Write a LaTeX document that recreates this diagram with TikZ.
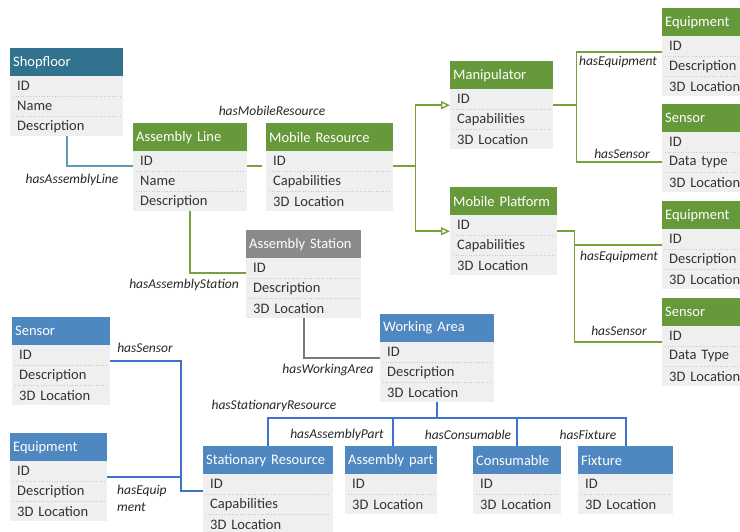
\documentclass[tikz,border=0pt]{standalone}
\usepackage{fontspec}
\setmainfont{Carlito}
\usetikzlibrary{arrows.meta,calc}

\definecolor{hdrteal}{HTML}{31728F}
\definecolor{hdrgreen}{HTML}{65993A}
\definecolor{hdrgray}{HTML}{8A8A8A}
\definecolor{hdrblue}{HTML}{4F87C0}
\definecolor{bodyfill}{HTML}{EFEFEF}
\definecolor{bodytext}{HTML}{333333}
\definecolor{lnteal}{HTML}{5A9BB5}
\definecolor{lngreen}{HTML}{77A13B}
\definecolor{lngray}{HTML}{7A7A7A}
\definecolor{lnblue}{HTML}{3F72CF}

\tikzset{
  hdrbox/.style={rectangle, minimum height=28pt, inner xsep=3pt, inner ysep=0pt,
    align=left, text=white, font=\fontsize{14.5}{17}\selectfont},
  rowbox/.style={rectangle, minimum height=20pt, inner xsep=7pt, inner ysep=0pt,
    fill=bodyfill, align=left, text=bodytext, font=\fontsize{14.5}{17}\selectfont},
  sepline/.style={draw=black!22, dotted, line width=0.6pt},
  lbl/.style={inner sep=0pt, text=black!85, font=\fontsize{13.5}{17}\selectfont\itshape},
  relteal/.style={draw=lnteal, line width=1.7pt},
  relgreen/.style={draw=lngreen, line width=1.7pt},
  relgray/.style={draw=lngray, line width=1.7pt},
  relblue/.style={draw=lnblue, line width=1.7pt},
  isa/.style={relgreen, -{Triangle[open, length=9pt, width=8pt, line width=1.4pt]}},
}

% #1 name, #2 x, #3 top y, #4 width, #5 header colour, #6 title, #7 attribute rows
\newcommand\entity[7]{%
  \pgfmathsetmacro\hdrw{#4-6}%
  \pgfmathsetmacro\roww{#4-14}%
  \node[hdrbox, fill=#5, text width=\hdrw pt, anchor=north west] (#1-h) at (#2,#3) {\mbox{#6}};
  \foreach \r [count=\i] in {#7} {
    \node[rowbox, text width=\roww pt, anchor=north west] (#1-\i) at ({#2},{#3+8+20*\i}) {\r};
    \ifnum\i>1
      \draw[sepline] ([xshift=3pt]#1-\i.north west) -- ([xshift=-3pt]#1-\i.north east);
    \fi
  }
}

\begin{document}
\begin{tikzpicture}[x=1pt, y=-1pt]
\clip (0,0) rectangle (740,531);

% ---- entities ----
\entity{shop}{10}{48}{113}{hdrteal}{Shopfloor}{ID,Name,Description}
\entity{aline}{133}{123}{114}{hdrgreen}{Assembly Line}{ID,Name,Description}
\entity{mres}{266}{123}{127}{hdrgreen}{Mobile Resource}{ID,Capabilities,3D Location}
\entity{manip}{450}{61}{103}{hdrgreen}{Manipulator}{ID,Capabilities,3D Location}
\entity{mplat}{450}{187}{107}{hdrgreen}{Mobile Platform}{ID,Capabilities,3D Location}
\entity{equipA}{662}{8}{100}{hdrgreen}{Equipment}{ID,Description,3D Location}
\entity{sensA}{662}{104}{100}{hdrgreen}{Sensor}{ID,Data type,3D Location}
\entity{equipB}{662}{201}{100}{hdrgreen}{Equipment}{ID,Description,3D Location}
\entity{sensB}{662}{298}{100}{hdrgreen}{Sensor}{ID,Data Type,3D Location}
\entity{astat}{246}{230}{115}{hdrgray}{Assembly Station}{ID,Description,3D Location}
\entity{warea}{380}{314}{114}{hdrblue}{Working Area}{ID,Description,3D Location}
\entity{sensL}{12}{317}{98}{hdrblue}{Sensor}{ID,Description,3D Location}
\entity{equipL}{10}{433}{97}{hdrblue}{Equipment}{ID,Description,3D Location}
\entity{sres}{203}{446}{130}{hdrblue}{Stationary Resource}{ID,Capabilities,3D Location}
\entity{apart}{345}{446}{92}{hdrblue}{Assembly part}{ID,3D Location}
\entity{cons}{473}{446}{88}{hdrblue}{Consumable}{ID,3D Location}
\entity{fix}{578}{446}{95}{hdrblue}{Fixture}{ID,3D Location}

% ---- attachment points on the attribute rows ----
\coordinate (alOut)  at ([yshift=-5pt]aline-1.east);
\coordinate (alIn)   at ([yshift=-5pt]aline-1.west);
\coordinate (mrIn)   at ([xshift=-4pt,yshift=-5pt]mres-1.west);
\coordinate (mrOut)  at ([yshift=-5pt]mres-1.east);
\coordinate (mnIn)   at ([yshift=-6pt]manip-1.west);
\coordinate (mnOut)  at ([yshift=-6pt]manip-1.east);
\coordinate (mpIn)   at ([yshift=-6pt]mplat-1.west);
\coordinate (mpOut)  at ([yshift=-6pt]mplat-1.east);
\coordinate (eqAIn)  at ([yshift=-6pt]equipA-1.west);
\coordinate (snAIn)  at (sensA-2.west);
\coordinate (eqBIn)  at ([yshift=-6pt]equipB-1.west);
\coordinate (snBIn)  at ([yshift=-6pt]sensB-1.west);
\coordinate (asIn)   at ([yshift=-5pt]astat-1.west);
\coordinate (waIn)   at ([yshift=-6pt]warea-1.west);
\coordinate (srIn)   at ([yshift=-7pt]sres-1.west);
\coordinate (snLOut) at ([yshift=-6pt]sensL-1.east);
\coordinate (eqLOut) at ([yshift=-6pt]equipL-1.east);

% ---- relations ----
% shopfloor -> assembly line
\draw[relteal] (shop-3.south) |- (alIn);
\node[lbl] (l-al) at (72,180) {hasAssemblyLine};

% assembly line -> mobile resource
\draw[relgreen] (alOut) -- (mrIn);
\node[lbl] (l-mr) at (272,111) {hasMobileResource};

% mobile resource specialisations
\coordinate (mrj) at ($(mrOut)+(22,0)$);
\draw[relgreen] (mrOut) -- (mrj);
\draw[isa] (mrj) |- (mnIn);
\draw[isa] (mrj) |- (mpIn);

% manipulator -> equipment / sensor
\coordinate (mj) at ($(mnOut)+(23,0)$);
\draw[relgreen] (mnOut) -- (mj);
\draw[relgreen] (eqAIn) -| (mj) |- (snAIn);
\node[lbl] (l-eqA) at (618,62) {hasEquipment};
\node[lbl] (l-snA) at (622,154) {hasSensor};

% mobile platform -> equipment / sensor
\coordinate (pj) at ($(mpOut)+(17,0)$);
\draw[relgreen] (mpOut) -- (pj) |- (snBIn);
\draw[relgreen] (pj |- eqBIn) -- (eqBIn);
\node[lbl] (l-eqB) at (619,257) {hasEquipment};
\node[lbl] (l-snB) at (619,331) {hasSensor};

% assembly line -> assembly station
\draw[relgreen] (aline-3.south) |- (asIn);
\node[lbl] (l-as) at (184,285) {hasAssemblyStation};

% assembly station -> working area
\draw[relgray] (astat-3.south) |- (waIn);
\node[lbl] (l-wa) at (328,370) {hasWorkingArea};

% working area -> stationary resources, parts, consumables, fixtures
\coordinate (bus) at (0,418);
\coordinate (apTop) at ([xshift=2pt]apart-h.north);
\draw[relblue] (warea-3.south) -- (warea-3.south |- bus);
\draw[relblue] (sres-h.north) |- (fix-h.north |- bus) -- (fix-h.north);
\draw[relblue] (apTop) -- (apTop |- bus);
\draw[relblue] (cons-h.north) -- (cons-h.north |- bus);
\node[lbl] (l-sr) at (274,406) {hasStationaryResource};
\node[lbl] (l-ap) at (337,435) {hasAssemblyPart};
\node[lbl] (l-co) at (468,435) {hasConsumable};
\node[lbl] (l-fx) at (588,435) {hasFixture};

% stationary resource -> sensor / equipment
\coordinate (lx) at (181,0);
\draw[relblue] (snLOut) -| (lx |- srIn) -- (srIn);
\draw[relblue] (eqLOut) -- (lx |- eqLOut);
\node[lbl] (l-snL) at (145,348) {hasSensor};
\node[lbl, anchor=west, align=left] (l-eqL) at (117,498) {hasEquip\\ment};
\end{tikzpicture}
\end{document}
